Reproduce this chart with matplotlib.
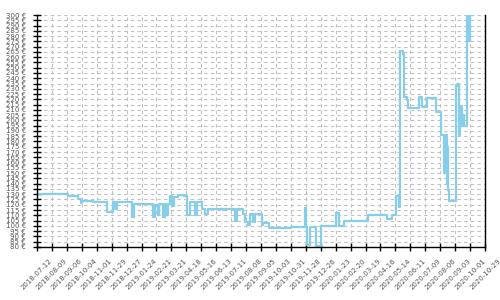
import matplotlib
matplotlib.use('Agg')
import matplotlib.pyplot as plt
import matplotlib.dates as mdates
import pandas as pd

# price history (date of change, price in euro)
dates = ['2018-07-12', '2018-09-08', '2018-09-27', '2018-10-02', '2018-10-04',
         '2018-10-25', '2018-11-20', '2018-12-01', '2018-12-05', '2018-12-09',
         '2019-01-06', '2019-01-10', '2019-02-14', '2019-02-18', '2019-02-24',
         '2019-02-26', '2019-03-05', '2019-03-09', '2019-03-11', '2019-03-15',
         '2019-03-18', '2019-03-22', '2019-03-26', '2019-04-02', '2019-04-14',
         '2019-04-19', '2019-04-25', '2019-05-04', '2019-05-08', '2019-05-17',
         '2019-05-23', '2019-05-29', '2019-06-26', '2019-06-29', '2019-07-18',
         '2019-07-22', '2019-08-02', '2019-08-06', '2019-08-12', '2019-08-15',
         '2019-08-21', '2019-08-25', '2019-09-07', '2019-09-09', '2019-09-20',
         '2019-10-31', '2019-11-26', '2019-11-28', '2019-11-30', '2019-12-06',
         '2019-12-17', '2019-12-26', '2020-01-23', '2020-01-30', '2020-02-07',
         '2020-03-24', '2020-04-29', '2020-05-07', '2020-05-16', '2020-05-20',
         '2020-05-23', '2020-05-29', '2020-05-31', '2020-06-04', '2020-06-06',
         '2020-06-28', '2020-07-02', '2020-07-13', '2020-07-30', '2020-08-08',
         '2020-08-14', '2020-08-16', '2020-08-18', '2020-08-20', '2020-08-21',
         '2020-08-23', '2020-09-05', '2020-09-07', '2020-09-11', '2020-09-13',
         '2020-09-15', '2020-09-17', '2020-09-19', '2020-09-26', '2020-09-28',
         '2020-09-30', '2020-10-06']
prices = [130, 128, 125, 122, 124,
          123, 113, 123, 116, 123,
          108, 121, 108, 120, 110,
          121, 108, 121, 110, 121,
          128, 119, 127, 129, 128,
          110, 123, 110, 123, 116,
          111, 116, 115, 116, 105,
          116, 111, 104, 101, 111,
          104, 111, 101, 103, 98,
          99, 117, 99, 82, 99,
          81, 100, 112, 100, 105,
          110, 106, 110, 128, 118,
          266, 263, 222, 219, 212,
          222, 213, 221, 208, 186,
          150, 186, 140, 175, 134,
          124, 233, 235, 186, 214,
          195, 205, 195, 300, 275,
          300, 300]

tick_dates = pd.date_range('2018-07-12', '2020-10-29', freq='28D')
y_ticks = list(range(80, 301, 5))

x = pd.to_datetime(dates)

fig = plt.figure(figsize=(5, 3), dpi=100)
ax = fig.add_axes([0.074, 0.177, 0.896, 0.773])

ax.step(x, prices, where='post', color='#87CEEB', linewidth=1.6)

ax.set_xlim(tick_dates[0], tick_dates[-1])
ax.set_ylim(80, 300)
ax.set_xticks(tick_dates)
ax.xaxis.set_major_formatter(mdates.DateFormatter('%Y-%m-%d'))
ax.set_yticks(y_ticks)
ax.set_yticklabels([f'{v} €' for v in y_ticks])

ax.grid(True, color='#c0c0c0', linestyle=(0, (3, 3)), linewidth=0.8)
ax.set_axisbelow(True)

ax.spines['top'].set_visible(False)
for s in ['left', 'bottom', 'right']:
    ax.spines[s].set_color('black')
    ax.spines[s].set_linewidth(1)

ax.tick_params(axis='both', direction='inout', length=6, width=1,
               colors='black', labelcolor='#555555', labelsize=5)
ax.tick_params(axis='y', pad=5)
ax.tick_params(axis='x', pad=5)
plt.setp(ax.get_xticklabels(), rotation=45)

fig.savefig('out.png', dpi=100)
